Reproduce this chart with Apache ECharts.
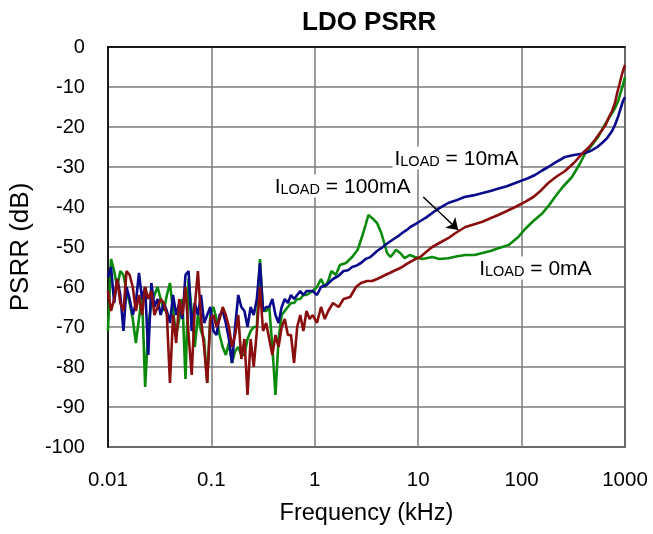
<!DOCTYPE html>
<html><head><meta charset="utf-8">
<script src="https://cdn.jsdelivr.net/npm/echarts@6/dist/echarts.min.js"></script>
<style>html,body{margin:0;padding:0;background:#fff}#c{width:653px;height:534px}</style>
</head><body><div id="c"></div>
<script>
// Frequencies (kHz) of the noisy low-frequency part (shared by all three traces)
const noiseFreq = [0.01,0.01072,0.01148,0.0123,0.01318,0.01413,0.01514,0.01622,0.01738,0.01862,
0.01995,0.02138,0.02291,0.02455,0.0263,0.02818,0.0302,0.03236,0.03467,0.03715,
0.03981,0.04266,0.04571,0.04898,0.05248,0.05623,0.06026,0.06457,0.06918,0.07413,
0.07943,0.0851,0.0912,0.0977,0.1047,0.1122,0.1202,0.1288,0.138,0.1479,
0.1585,0.1698,0.182,0.195,0.2089,0.2239,0.2399,0.257,0.2754,0.2951,
0.3162,0.3388,0.3631,0.389,0.4169,0.4467,0.4786,0.5129,0.5495,0.5888,
0.631,0.6761,0.7244,0.7762,0.8318,0.8913,0.955];

// I_LOAD = 0mA (green)
const green0mALow = [-71,-53,-56,-60,-56,-57,-61,-64,-68,-74,-68,-62,-85,-70,-64,-62,-60,-63,-66,-62,-59,
-66,-72,-68,-63,-83,-58,-66,-75,-67,-71,-73,-84,-67,-65,-68,-72,-75,-77,-74,-79,-76,-75,
-77,-77,-73,-71,-70,-70,-53,-66,-66,-65,-75,-87,-73,-67,-66,-65,-64,-64,-63,-63,-62,-62,-61.5,-61];
const green0mAHiFreq = [1.05,1.15,1.25,1.35,1.45,1.6,1.75,2.0,2.3,2.6,2.9,3.1,3.3,3.6,4.0,4.4,4.7,5.0,5.4,5.8,
6.1,6.7,7.4,8.3,9.3,11,13.7,16,19.5,24,28.6,35,41.8,50,59.5,75,93,108,130,157,
185,210,250,307,360,410,480,550,620,690,750,810,860,900,955,1000];
const green0mAHi = [-60,-58,-60,-58.5,-56,-57,-54.5,-54,-52.5,-50.7,-47,-44.5,-42,-42.8,-44,-46.5,-49,-51.5,-52.5,-51.5,
-50.7,-51.5,-52.8,-52,-52.5,-53,-52.5,-53,-52.8,-52.3,-52,-52,-51.5,-51,-50.3,-49.5,-47.5,-45.5,-43.5,-41.7,
-39.5,-37.5,-35,-32.5,-29.5,-26.7,-24.5,-22.5,-20,-18,-16.5,-15,-13.5,-11.7,-9.5,-7.5];

// I_LOAD = 10mA (blue)
const blue10mALow = [-57.5,-55,-64,-58,-62,-71,-60,-63,-67,-64,-56.5,-63,-60,-77,-59,-65,-63,-67,-64,-66,-69,
-62,-67,-64,-68,-57,-56,-71,-64,-67,-62,-69,-67,-65,-71,-72,-67,-66,-69,-73,-79,-70,-62,
-65,-66,-70,-65,-67,-63,-54,-66,-65,-65,-63,-67,-69,-65,-63,-64,-62,-63,-62,-61,-62,-61,-61,-61];
const blue10mAHiFreq = [1.05,1.15,1.3,1.5,1.7,1.9,2.1,2.3,2.55,2.8,3.1,3.4,3.7,4.0,4.4,4.8,5.3,5.8,6.4,7.0,
7.7,8.4,9.4,10.5,12,14,16.5,19.5,23,28,34,42,50,60,72,87,100,115,135,155,
181,215,263,320,384,430,480,540,600,670,750,800,855,905,955,1000];
const blue10mAHi = [-62,-60,-59.5,-58,-57.2,-56,-55.8,-55,-54.6,-54,-53,-52.6,-51.8,-51,-50.3,-49.5,-48.7,-48,-47.3,-46.5,
-45.8,-45,-44.3,-43.5,-42.6,-41.3,-40.1,-39,-38.4,-37.5,-37.1,-36.5,-36,-35.4,-34.8,-34,-33.4,-32.8,-32,-31,
-30,-28.8,-27.5,-27,-26.7,-26.3,-25.8,-25,-24,-22.8,-21,-19.5,-17.5,-15.5,-13.5,-12.5];

// I_LOAD = 100mA (dark red)
const red100mALow = [-61,-66,-63,-58,-64,-66,-56,-57,-60,-66,-62,-67,-60,-63,-61,-67,-65,-63,-64,-67,-84,
-67,-74,-63,-67,-60,-72,-82,-65,-56,-68,-75,-84,-68,-67,-70,-68,-65,-67,-70,-75,-72,-67,
-78,-73,-87,-73,-80,-71,-60,-71,-69,-73,-77,-72,-75,-70,-68,-72,-72,-79,-70,-67,-71,-66,-68,-67];
const red100mAHiFreq = [1.05,1.15,1.25,1.35,1.5,1.7,1.9,2.2,2.5,2.8,3.2,3.6,4.0,4.4,4.8,5.3,5.8,6.4,7.0,7.7,
8.4,9.4,10.5,12,13.7,16,19.5,23,28.6,35,41.8,50,59.5,72,87,108,130,155,181,215,
263,320,384,450,520,590,650,700,750,800,840,880,920,955,1000];
const red100mAHi = [-69,-65,-68,-66,-64,-65,-63,-62.5,-60,-59,-58.5,-58.5,-58,-57.5,-57,-56.5,-56,-55.5,-55,-54.3,
-53.7,-53,-52.5,-51.2,-50,-49,-47.8,-46.5,-45,-44.3,-43.7,-42.8,-42,-41,-40,-38.7,-37.5,-35.8,-34,-32.5,
-31,-29,-26.7,-25,-23,-21,-19.5,-17.5,-16,-14,-11.5,-9.5,-7.5,-6,-4.5];

const xTickLabels = ['0.01','0.1','1','10','100','1000'];
const seriesNames = ['ILOAD = 0mA','ILOAD = 10mA','ILOAD = 100mA'];
const labelTexts = ['0mA','10mA','100mA'];
// annotation anchor points (data coords: kHz, dB)
const labelAnchors = [[37.2,-55.25],[5.64,-27.75],[0.392,-34.75]];
const arrowFrom = [11.2,-37.5];
const arrowTo = [24.4,-45.75];

function pairs(f, v){ return f.map((x,i)=>[x, v[i]]); }
const FONT = '"Liberation Sans", Arial, Helvetica, sans-serif';

const chart = echarts.init(document.getElementById('c'), null, {renderer:'canvas'});
const rich = {
  i: {fontSize: 21, fontFamily: FONT, color:'#000', lineHeight: 23, verticalAlign:'bottom'},
  s: {fontSize: 14.5, fontFamily: FONT, color:'#000', lineHeight: 16, verticalAlign:'bottom'}
};
function lbl(n){ return '{i|I}{s|LOAD}{i| = '+n+'}'; }

const lineCommon = {type:'line', showSymbol:false, symbol:'none', smooth:false, animation:false, silent:true};

const option = {
  animation:false,
  backgroundColor:'#fff',
  title:{text:'LDO PSRR', left:297, top:5, textStyle:{fontFamily:FONT, fontSize:26, fontWeight:'bold', color:'#000'}},
  grid:{left:107, right:28, top:47, bottom:87, show:true, borderColor:'#000', borderWidth:1.5},
  xAxis:{
    type:'log', logBase:10, min:0.01, max:1000,
    name:'Frequency (kHz)', nameLocation:'middle', nameGap:55,
    nameTextStyle:{fontFamily:FONT, fontSize:23.5, color:'#000'},
    axisLine:{show:true, lineStyle:{color:'#000', width:1.5}},
    axisTick:{show:false},
    axisLabel:{fontFamily:FONT, fontSize:20.5, color:'#000', margin:23,
      formatter: v => xTickLabels[Math.round(Math.log10(v)) + 2]},
    splitLine:{show:true, lineStyle:{color:'#7a7a7a', width:1.5}}
  },
  yAxis:{
    type:'value', min:-100, max:0, interval:10,
    name:'PSRR (dB)', nameLocation:'middle', nameGap:72,
    nameTextStyle:{fontFamily:FONT, fontSize:26, color:'#000'},
    axisLine:{show:true, lineStyle:{color:'#000', width:1.5}},
    axisTick:{show:false},
    axisLabel:{fontFamily:FONT, fontSize:20, color:'#000', margin:23},
    splitLine:{show:true, lineStyle:{color:'#7a7a7a', width:1.5}}
  },
  series:[
    Object.assign({}, lineCommon, {name:seriesNames[0], z:2, data: pairs(noiseFreq, green0mALow).concat(pairs(green0mAHiFreq, green0mAHi)),
      lineStyle:{color:'#0a8a0a', width:2.6}, itemStyle:{color:'#0a8a0a'}}),
    Object.assign({}, lineCommon, {name:seriesNames[1], z:3, data: pairs(noiseFreq, blue10mALow).concat(pairs(blue10mAHiFreq, blue10mAHi)),
      lineStyle:{color:'#0a0a8c', width:2.6}, itemStyle:{color:'#0a0a8c'}}),
    Object.assign({}, lineCommon, {name:seriesNames[2], z:4, data: pairs(noiseFreq, red100mALow).concat(pairs(red100mAHiFreq, red100mAHi)),
      lineStyle:{color:'#8a0e0e', width:2.6}, itemStyle:{color:'#8a0e0e'}}),
    {
      type:'line', data:[], z:10, silent:true,
      markPoint:{
        symbol:'circle', symbolSize:0, silent:true, animation:false,
        label:{show:true, position:'right', distance:0, backgroundColor:'#fff', padding:[0,2],
          formatter: p => p.name, rich: rich},
        data: labelTexts.map((t,i)=>({name: lbl(t), coord: labelAnchors[i]}))
      },
      markLine:{
        silent:true, animation:false, symbol:['none','arrow'], symbolSize:11,
        label:{show:false},
        lineStyle:{color:'#000', width:1.5, type:'solid'},
        data:[[{coord:arrowFrom},{coord:arrowTo}]]
      }
    }
  ]
};
chart.setOption(option);
</script>
</body></html>
